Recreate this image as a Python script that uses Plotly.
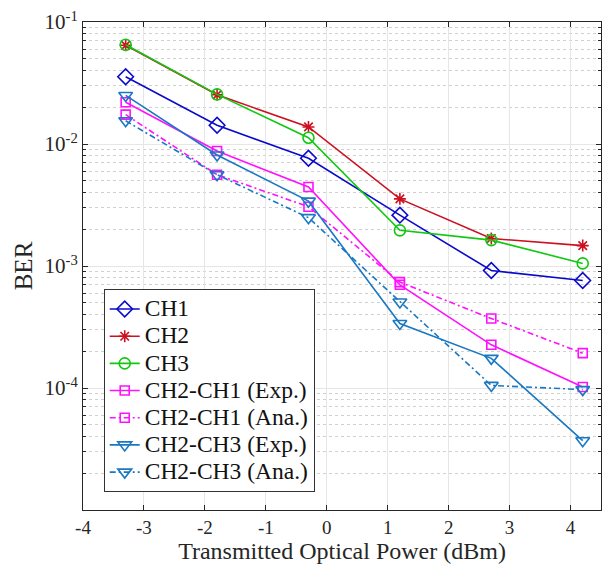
import plotly.graph_objects as go

x = [-3.3, -1.8, -0.3, 1.2, 2.7, 4.2]
ch1 = [0.0356, 0.01425, 0.00764, 0.00261, 0.000918, 0.00076]
ch2 = [0.0644, 0.0253, 0.0138, 0.00355, 0.00168, 0.00147]
ch3 = [0.0650, 0.0255, 0.01125, 0.00196, 0.00163, 0.00105]
ch21_exp = [0.0220, 0.00877, 0.00444, 0.000701, 0.000226, 0.000102]
ch21_ana = [0.0174, 0.0056, 0.00306, 0.000738, 0.000371, 0.000193]
ch23_exp = [0.0250, 0.00813, 0.00340, 0.000338, 0.000175, 0.000037]
ch23_ana = [0.0155, 0.0056, 0.00249, 0.000507, 0.000105, 0.000097]

names = ["CH1", "CH2", "CH3", "CH2-CH1 (Exp.)", "CH2-CH1 (Ana.)",
         "CH2-CH3 (Exp.)", "CH2-CH3 (Ana.)"]
series = [ch1, ch2, ch3, ch21_exp, ch21_ana, ch23_exp, ch23_ana]
colors = ["#0A0ACD", "#CC1020", "#10C810", "#FF10FF", "#FF10FF", "#1A78C2", "#1A78C2"]
symbols = ["diamond-open", "asterisk-open", "circle-open", "square-open", "square-open",
           "triangle-down-open", "triangle-down-open"]
sizes = [12, 10, 11, 9, 9, 12, 12]
dashes = ["solid", "solid", "solid", "solid", "6px,3px,2px,3px", "solid", "6px,3px,2px,3px"]

yticks = [1e-4, 1e-3, 1e-2, 1e-1]
ytext = ["10<sup>-4</sup>", "10<sup>-3</sup>", "10<sup>-2</sup>", "10<sup>-1</sup>"]
xticks = [-4, -3, -2, -1, 0, 1, 2, 3, 4]
decades = [1e-5, 1e-4, 1e-3, 1e-2]
mantissas = [2, 3, 4, 5, 6, 7, 8, 9]
yminor = [m * d for d in decades for m in mantissas]

fig = go.Figure()
for n, s, c, sym, sz, d in zip(names, series, colors, symbols, sizes, dashes):
    fig.add_trace(go.Scatter(
        x=x, y=s, name='<span style="font-size:23.5px">' + n + '</span>',
        mode="lines+markers",
        line=dict(color=c, width=1.6, dash=d),
        marker=dict(symbol=sym, size=sz, color=c, line=dict(width=1.6, color=c)),
    ))

font_family = "Times New Roman, Liberation Serif, DejaVu Serif, serif"
fig.update_layout(
    width=610, height=572,
    margin=dict(l=83, r=8, t=18, b=62),
    paper_bgcolor="white", plot_bgcolor="white",
    font=dict(family=font_family, size=18, color="#262626"),
    showlegend=True,
    legend=dict(
        x=0.04, y=0.036, xanchor="left", yanchor="bottom",
        bgcolor="white", bordercolor="#333333", borderwidth=1,
        font=dict(family=font_family, size=18.6, color="#111111"),
        tracegroupgap=0, itemwidth=30,
    ),
    xaxis=dict(
        range=[-4, 4.5], tickvals=xticks, ticktext=[str(v) for v in xticks],
        ticks="inside", ticklen=5, tickcolor="#262626",
        showline=True, linecolor="#262626", linewidth=1, mirror="ticks",
        showgrid=True, gridcolor="#E6E6E6", gridwidth=1, zeroline=False,
        tickfont=dict(family=font_family, size=19),
        title=dict(text="Transmitted Optical Power (dBm)",
                   font=dict(family=font_family, size=24), standoff=5),
    ),
    yaxis=dict(
        type="log", range=[-5, -1], tickvals=yticks, ticktext=ytext,
        ticks="inside", ticklen=5, tickcolor="#262626",
        showline=True, linecolor="#262626", linewidth=1, mirror="ticks",
        showgrid=True, gridcolor="#E6E6E6", gridwidth=1, zeroline=False,
        tickfont=dict(family=font_family, size=21),
        minor=dict(tickvals=yminor, ticks="inside", ticklen=3, tickcolor="#262626",
                   showgrid=True, gridcolor="#D0D0D0", griddash="dot", gridwidth=1),
        title=dict(text="BER", font=dict(family=font_family, size=25), standoff=4),
    ),
)

fig.write_html("out.html")
